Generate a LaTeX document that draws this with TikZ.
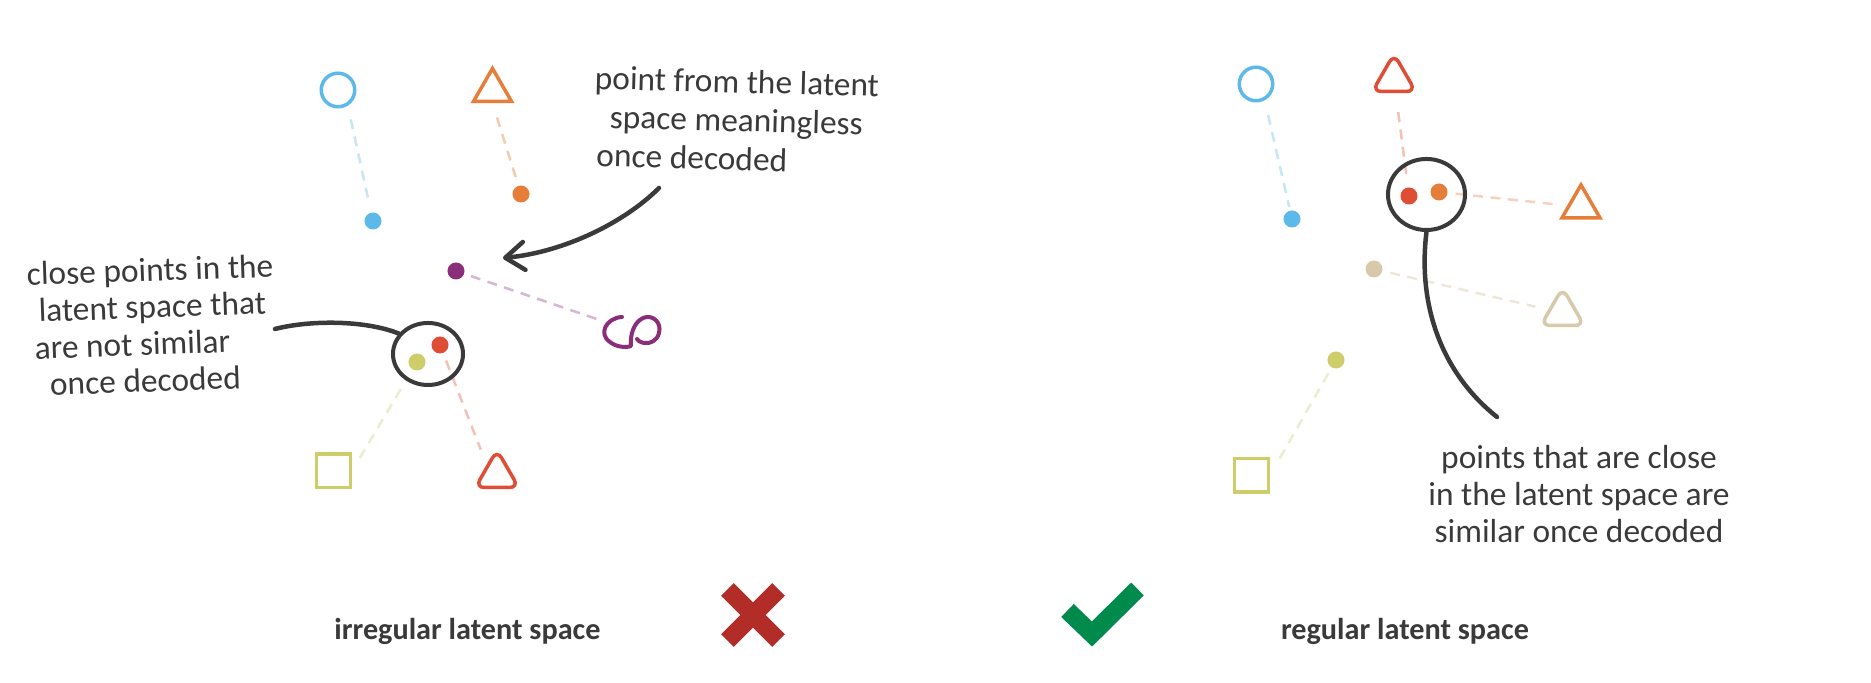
\documentclass[tikz,border=0pt]{standalone}
\usepackage{fontspec}
\newfontfamily\handfont{Carlito}
\newfontfamily\labfont{Carlito}
\usetikzlibrary{shapes.geometric,arrows.meta}
\definecolor{cblue}{RGB}{93,185,233}
\definecolor{corange}{RGB}{230,126,58}
\definecolor{cred}{RGB}{222,77,52}
\definecolor{cpurple}{RGB}{138,46,124}
\definecolor{cyellow}{RGB}{205,205,106}
\definecolor{ctan}{RGB}{214,202,171}
\definecolor{cdark}{RGB}{58,58,58}
\definecolor{cX}{RGB}{178,45,39}
\definecolor{ccheck}{RGB}{0,138,75}
\begin{document}
\begin{tikzpicture}[x=0.01cm,y=-0.01cm,
  shapeline/.style={line width=0.035cm,inner sep=0pt},
  ring/.style={shapeline,circle,draw=#1,minimum size=0.335cm},
  sharptri/.style={shapeline,regular polygon,regular polygon sides=3,draw=#1,minimum size=0.44cm},
  roundtri/.style={shapeline,regular polygon,regular polygon sides=3,draw=#1,minimum size=0.5cm,rounded corners=0.09cm},
  sqbox/.style={shapeline,rectangle,draw=#1,minimum size=0.335cm},
  fdot/.style={circle,fill=#1,inner sep=0pt,minimum size=0.17cm},
  link/.style={draw=#1,line width=0.025cm,dash pattern=on 0.1cm off 0.075cm},
  ringloop/.style={ellipse,draw=cdark,line width=0.04cm,inner sep=0pt},
  leader/.style={draw=cdark,line width=0.045cm,line cap=round},
  note/.style={font=\handfont\fontsize{9.5}{10.5}\selectfont,text=cdark,inner sep=0pt},
  panelname/.style={font=\labfont\bfseries\fontsize{8.6}{10}\selectfont,text=cdark,anchor=base,inner sep=0pt},
]
\useasboundingbox (0,0) rectangle (1871,683);

% ---- left panel shapes
\node[ring=cblue] (lc) at (338,90) {};
\node[sharptri=corange] (lt) at (492.5,90.5) {};
\node[fdot=cblue] (lbd) at (373,221) {};
\node[fdot=corange] (lod) at (521,194) {};
\node[fdot=cpurple] (lpd) at (456,271) {};
\node[fdot=cred] (lrd) at (440,345) {};
\node[fdot=cyellow] (lyd) at (417,362) {};
\node[sqbox=cyellow] (lsq) at (333.5,471) {};
\node[roundtri=cred] (lrt) at (497,475) {};
\coordinate (squig) at (632,331);
\draw[cpurple,line width=0.04cm,line cap=round,line join=round]
  (622,317) .. controls (606,318) and (598,334) .. (610,342)
  .. controls (616,347) and (626,348) .. (631,346)
  .. controls (630,336) and (633,323) .. (643,318)
  .. controls (652,314) and (662,322) .. (659,333)
  .. controls (657,341) and (650,344) .. (644,343)
  .. controls (640,342) and (638,341) .. (637,339);

% ---- right panel shapes
\node[ring=cblue] (rc) at (1256,84) {};
\node[roundtri=cred] (rrt) at (1394,79) {};
\node[fdot=cblue] (rbd) at (1292,219) {};
\node[fdot=cred] (rrd) at (1409,196) {};
\node[fdot=corange] (rod) at (1439,192) {};
\node[sharptri=corange] (rot) at (1581,207) {};
\node[fdot=ctan] (rtd) at (1374,269) {};
\node[roundtri=ctan] (rtt) at (1562.5,313) {};
\node[fdot=cyellow] (ryd) at (1336,360) {};
\node[sqbox=cyellow] (rsq) at (1251.5,475.5) {};

% ---- dashed links
\draw[link=cblue!35, shorten <=0.14cm, shorten >=0.075cm] (lc.-58) -- (lbd);
\draw[link=corange!40, shorten <=0.085cm, shorten >=0.12cm] (lod) -- (lt.south);
\draw[link=cpurple!35, shorten <=0.065cm, shorten >=0.35cm] (lpd) -- (squig);
\draw[link=cyellow!35, shorten <=0.225cm, shorten >=0.135cm] (lyd) -- (lsq.east);
\draw[link=cred!35, shorten <=0.075cm, shorten >=0.16cm] (lrd) -- (lrt.north west);

\draw[link=cblue!35, shorten <=0.15cm, shorten >=0.03cm] (rc.-62) -- (rbd);
\draw[link=cred!35, shorten <=0.19cm, shorten >=0.075cm] (rrt) -- (rrd);
\draw[link=corange!35, shorten <=0.075cm, shorten >=0.11cm] (rod) -- (rot);
\draw[link=ctan!45, shorten <=0.075cm, shorten >=0.13cm] (rtd) -- (rtt);
\draw[link=cyellow!35, shorten <=0.065cm, shorten >=0.14cm] (ryd) -- (rsq.east);

% ---- loops around close points
\node[ringloop, minimum width=0.70cm, minimum height=0.62cm] (lell) at (428,354) {};
\node[ringloop, minimum width=0.77cm, minimum height=0.71cm] (rell) at (1426.5,194.5) {};

% ---- notes
\node[note, font=\handfont\fontsize{9.5}{11}\selectfont, rotate=-1.5, align=left] (ntop) at (736,120)
  {point from the latent\\\hspace*{4.5pt}space meaningless\\\hspace*{1pt}once decoded};
\node[note, rotate=2, align=left] (nleft) at (152,325)
  {close points in the\\\hspace*{3pt}latent space that\\\hspace*{1.5pt}are not similar\\\hspace*{5.5pt}once decoded};
\node[note, align=center] (nright) at (1579,494)
  {points that are close\\in the latent space are\\similar once decoded};

\coordinate (topnoteend) at (659,188);
\coordinate (arrowtip) at (503,258);
\coordinate (leftnoteend) at (275,329);
\coordinate (rightnoteend) at (1497,417);

\draw[leader,-{Straight Barb[length=0.19cm,width=0.28cm,round]}]
  (topnoteend) .. controls (625,222) and (565,252) .. (arrowtip);
\draw[leader] (leftnoteend) .. controls (310,320) and (365,320) .. (lell.145);
\draw[leader] (rell.south) .. controls (1418,300) and (1438,370) .. (rightnoteend);

% ---- bottom labels and marks
\node[panelname] (lname) at (467.5,640) {irregular latent space};
\node[panelname] (rname) at (1405,640) {regular latent space};
\draw[cX, line width=0.18cm] (727.4,589.4) -- (778.6,640.6) (778.6,589.4) -- (727.4,640.6);
\draw[ccheck, line width=0.18cm, line join=miter] (1067.5,610.5) -- (1092,634) -- (1137.5,589);
\end{tikzpicture}
\end{document}
